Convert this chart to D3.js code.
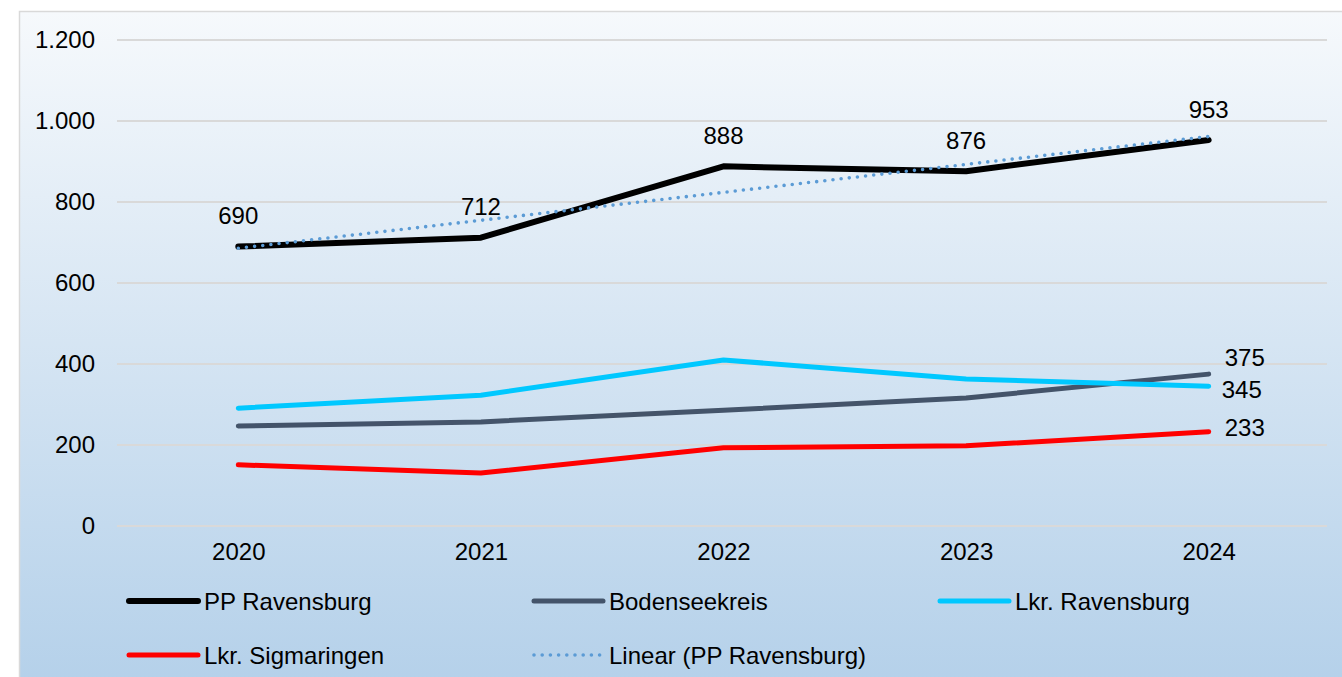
<!DOCTYPE html>
<html>
<head>
<meta charset="utf-8">
<script src="https://cdn.jsdelivr.net/npm/d3@7"></script>
<style>
  html, body { margin: 0; padding: 0; background: #ffffff; }
  svg { display: block; }
  text { font-family: "Liberation Sans", Arial, sans-serif; fill: #000; }
</style>
</head>
<body>
<svg id="chart" width="1342" height="677"></svg>
<script>
// Years on the x axis
const years = ["2020", "2021", "2022", "2023", "2024"];

// Series values per year
const ppRavensburg   = [690, 712, 888, 876, 953];
const bodenseekreis  = [247, 257, 286, 316, 375];
const lkrRavensburg  = [291, 323, 410, 363, 345];
const lkrSigmaringen = [151, 131, 193, 198, 233];

// Y axis ticks
const yTicks = [0, 200, 400, 600, 800, 1000, 1200];

// Series names and colours
const seriesNames = ["PP Ravensburg", "Bodenseekreis", "Lkr. Ravensburg", "Lkr. Sigmaringen"];
const seriesColors = ["#000000", "#44546a", "#00c8ff", "#ff0000"];
const trendName = "Linear (PP Ravensburg)";
const trendColor = "#5b9bd5";

const seriesData = [ppRavensburg, bodenseekreis, lkrRavensburg, lkrSigmaringen];

const FONT = "24px";

const svg = d3.select("#chart");
const W = 1342, H = 677;

// Background panel with vertical gradient
const defs = svg.append("defs");
const grad = defs.append("linearGradient")
  .attr("id", "bg").attr("x1", 0).attr("y1", 0).attr("x2", 0).attr("y2", 1);
grad.append("stop").attr("offset", "0%").attr("stop-color", "#f6f9fc");
grad.append("stop").attr("offset", "100%").attr("stop-color", "#b2cfe9");

svg.append("rect")
  .attr("x", 19.5).attr("y", 11.5)
  .attr("width", W + 20).attr("height", H + 20)
  .attr("fill", "url(#bg)")
  .attr("stroke", "#d9d9d9").attr("stroke-width", 1.5);

// Scales
const x = d3.scalePoint().domain(years).range([117, 1330]).padding(0.5);
const y = d3.scaleLinear().domain([0, 1200]).range([526, 40]);

const de = d3.formatLocale({ decimal: ",", thousands: ".", grouping: [3], currency: ["", " €"] });
const fmt = de.format(",d");

// Gridlines
svg.append("g")
  .selectAll("line")
  .data(yTicks)
  .join("line")
  .attr("x1", 117).attr("x2", 1327)
  .attr("y1", d => y(d)).attr("y2", d => y(d))
  .attr("stroke", "#d9d9d9").attr("stroke-width", 2);

// Y axis labels
const yAxis = svg.append("g")
  .attr("transform", "translate(95,0)")
  .call(d3.axisLeft(y).tickValues(yTicks).tickFormat(fmt).tickSize(0).tickPadding(0));
yAxis.select(".domain").remove();
yAxis.selectAll("text")
  .attr("font-size", FONT)
  .attr("font-family", "Liberation Sans, Arial, sans-serif")
  .attr("fill", "#000");

// X axis labels
const xAxis = svg.append("g")
  .attr("transform", "translate(0,543)")
  .call(d3.axisBottom(x).tickSize(0).tickPadding(0));
xAxis.select(".domain").remove();
xAxis.selectAll("text")
  .attr("font-size", FONT)
  .attr("font-family", "Liberation Sans, Arial, sans-serif")
  .attr("fill", "#000");

// Linear trend of PP Ravensburg (least squares)
const n = ppRavensburg.length;
const xs = d3.range(n);
const mx = d3.mean(xs), my = d3.mean(ppRavensburg);
const slope = d3.sum(xs, i => (i - mx) * (ppRavensburg[i] - my)) / d3.sum(xs, i => (i - mx) ** 2);
const intercept = my - slope * mx;
const trendValues = xs.map(i => intercept + slope * i);

const line = d3.line()
  .x((d, i) => x(years[i]))
  .y(d => y(d));

// Series lines, drawn bottom-up so PP Ravensburg sits on top
const order = [3, 1, 2, 0];
const widths = [6, 5, 5, 5];
order.forEach(k => {
  svg.append("path")
    .datum(seriesData[k])
    .attr("d", line)
    .attr("fill", "none")
    .attr("stroke", seriesColors[k])
    .attr("stroke-width", widths[k])
    .attr("stroke-linejoin", "round")
    .attr("stroke-linecap", "round");
});

// Trend line (dotted)
svg.append("path")
  .datum(trendValues)
  .attr("d", line)
  .attr("fill", "none")
  .attr("stroke", trendColor)
  .attr("stroke-width", 3.6)
  .attr("stroke-linecap", "round")
  .attr("stroke-dasharray", "0 8.2");

// Data labels for PP Ravensburg above every point
svg.append("g")
  .selectAll("text")
  .data(ppRavensburg)
  .join("text")
  .attr("x", (d, i) => x(years[i]))
  .attr("y", d => y(d) - 31)
  .attr("text-anchor", "middle")
  .attr("dominant-baseline", "central")
  .attr("font-size", FONT)
  .text(d => fmt(d));

// End labels for the three districts
const last = years.length - 1;
const endLabels = [
  { values: bodenseekreis, dx: 16, dy: -17 },
  { values: lkrRavensburg, dx: 13, dy: 3 },
  { values: lkrSigmaringen, dx: 16, dy: -4 }
];
svg.append("g")
  .selectAll("text")
  .data(endLabels)
  .join("text")
  .attr("x", d => x(years[last]) + d.dx)
  .attr("y", d => y(d.values[last]) + d.dy)
  .attr("text-anchor", "start")
  .attr("dominant-baseline", "central")
  .attr("font-size", FONT)
  .text(d => fmt(d.values[last]));

// Legend
const legendItems = [
  { name: seriesNames[0], color: seriesColors[0], w: 6, dash: null, col: 0, row: 0 },
  { name: seriesNames[1], color: seriesColors[1], w: 5, dash: null, col: 1, row: 0 },
  { name: seriesNames[2], color: seriesColors[2], w: 5, dash: null, col: 2, row: 0 },
  { name: seriesNames[3], color: seriesColors[3], w: 5, dash: null, col: 0, row: 1 },
  { name: trendName, color: trendColor, w: 3.6, dash: "0 8.2", col: 1, row: 1 }
];
const colX = [127, 532, 938];
const rowY = [601, 655];
const lg = svg.append("g")
  .selectAll("g")
  .data(legendItems)
  .join("g")
  .attr("transform", d => `translate(${colX[d.col]},${rowY[d.row]})`);
lg.append("line")
  .attr("x1", 2).attr("x2", 71)
  .attr("y1", 0).attr("y2", 0)
  .attr("stroke", d => d.color)
  .attr("stroke-width", d => d.w)
  .attr("stroke-linecap", "round")
  .attr("stroke-dasharray", d => d.dash);
lg.append("text")
  .attr("x", 77)
  .attr("y", 0)
  .attr("dominant-baseline", "central")
  .attr("font-size", FONT)
  .text(d => d.name);
</script>
</body>
</html>
